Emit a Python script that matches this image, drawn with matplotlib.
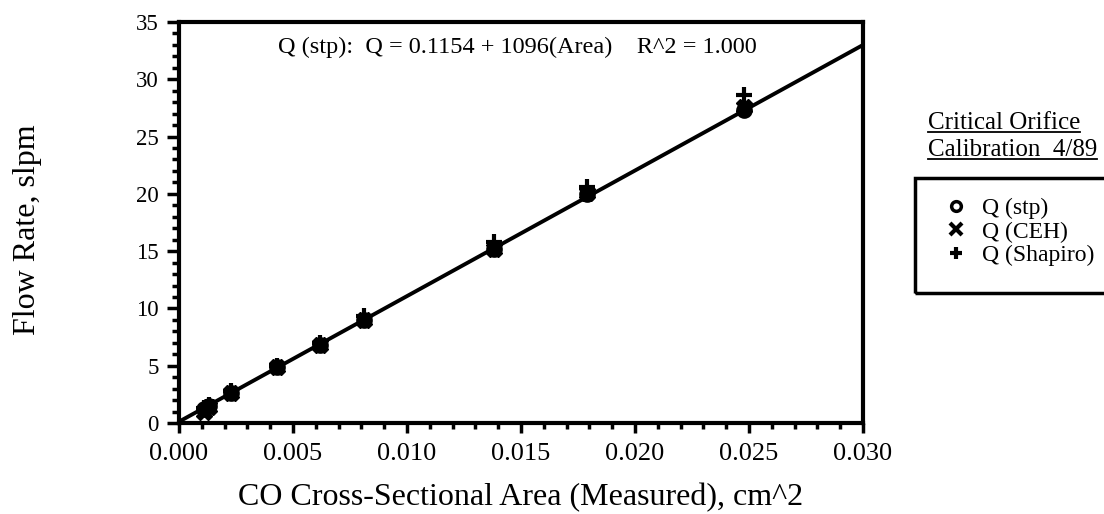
import matplotlib
matplotlib.use("Agg")
import matplotlib.pyplot as plt
from matplotlib.lines import Line2D
from matplotlib.patches import Rectangle
from matplotlib.ticker import MultipleLocator, FormatStrFormatter

# ---- data ----
area = [0.0011, 0.0013, 0.0023, 0.0043, 0.0062, 0.0081, 0.0138, 0.0179, 0.0248]
q_stp = [1.2, 1.5, 2.6, 4.9, 6.8, 9.0, 15.2, 20.0, 27.3]
q_ceh = [1.0, 1.4, 2.6, 4.9, 6.8, 9.0, 15.2, 20.1, 27.6]
q_shapiro = [1.3, 1.6, 2.8, 5.0, 7.0, 9.3, 15.8, 20.6, 28.6]
fit_intercept = 0.1154
fit_slope = 1096.0
fit_x = [0.0, 0.030]
xticks = [0.000, 0.005, 0.010, 0.015, 0.020, 0.025, 0.030]
yticks = [0, 5, 10, 15, 20, 25, 30, 35]

plt.rcParams['font.family'] = ['Liberation Serif', 'DejaVu Serif']

fig = plt.figure(figsize=(11.04, 5.14), dpi=100)
ax = fig.add_axes([179/1104, 1-423/514, (863-179)/1104, (423-22)/514])

fit_y = [fit_intercept + fit_slope * x for x in fit_x]
ax.plot(fit_x, fit_y, color='black', lw=2.8, zorder=2)

ax.plot(area, q_stp, ls='none', marker='o', ms=10, mfc='black', mec='black', mew=2, zorder=3)
ax.plot(area, q_ceh, ls='none', marker='X', ms=12, mfc='black', mec='black', zorder=3)
ax.plot(area, q_shapiro, ls='none', marker='+', ms=12, mec='black', mew=3, zorder=3)

ax.set_xlim(0, 0.030)
ax.set_ylim(0, 35)
ax.set_xticks(xticks)
ax.set_yticks(yticks)
ax.xaxis.set_major_formatter(FormatStrFormatter('%.3f'))
ax.xaxis.set_minor_locator(MultipleLocator(0.001))
ax.yaxis.set_minor_locator(MultipleLocator(1))
ax.tick_params(axis='x', which='major', direction='out', length=7.5, width=2.5, labelsize=19, pad=7)
ax.tick_params(axis='x', which='minor', direction='out', length=4, width=2.5)
ax.tick_params(axis='y', which='major', direction='out', length=8.5, width=2.5, labelsize=16.5, pad=6)
ax.tick_params(axis='y', which='minor', direction='out', length=5, width=2.5)
for s in ax.spines.values():
    s.set_linewidth(3)

ax.set_xlabel('CO Cross-Sectional Area (Measured), cm^2', fontsize=23, va='center')
ax.xaxis.set_label_coords(0.5, (423-498)/401)
ax.set_ylabel('Flow Rate, slpm', fontsize=23, va='center')
ax.yaxis.set_label_coords((28-179)/684, (423-230)/401)

ax.text((517-179)/684, (423-47)/401, 'Q (stp):  Q = 0.1154 + 1096(Area)    R^2 = 1.000',
        transform=ax.transAxes, ha='center', va='center', fontsize=17.5)

# legend title (underlined)
title_lines = ['Critical Orifice', 'Calibration  4/89']
title_y = [1-123/514, 1-150/514]
fig.canvas.draw()
renderer = fig.canvas.get_renderer()
inv = fig.transFigure.inverted()
for txt, yy in zip(title_lines, title_y):
    t = fig.text(928/1104, yy, txt, ha='left', va='center', fontsize=18)
    bb = t.get_window_extent(renderer=renderer)
    (x0, y0), (x1, y1) = inv.transform([[bb.x0, bb.y0], [bb.x1, bb.y1]])
    fig.add_artist(Line2D([x0, x1], [y0 + 0.004, y0 + 0.004], color='black', lw=1.3,
                          transform=fig.transFigure))

# legend box
fig.add_artist(Rectangle((915/1104, 1-293/514), 0.2, (293-178)/514, fill=False,
                         edgecolor='black', lw=2.5, transform=fig.transFigure))
handles = [
    Line2D([], [], ls='none', marker='o', ms=7, mfc='white', mec='black', mew=2.5),
    Line2D([], [], ls='none', marker='x', ms=8, mec='black', mew=3),
    Line2D([], [], ls='none', marker='+', ms=9, mec='black', mew=3),
]
labels = ['Q (stp)', 'Q (CEH)', 'Q (Shapiro)']
fig.legend(handles, labels, loc='upper left', bbox_to_anchor=(932/1104, 1-186/514),
           frameon=False, fontsize=17, handlelength=1.0, handletextpad=0.6,
           labelspacing=0.08, borderpad=0.0)

fig.savefig('out.png', dpi=100)
